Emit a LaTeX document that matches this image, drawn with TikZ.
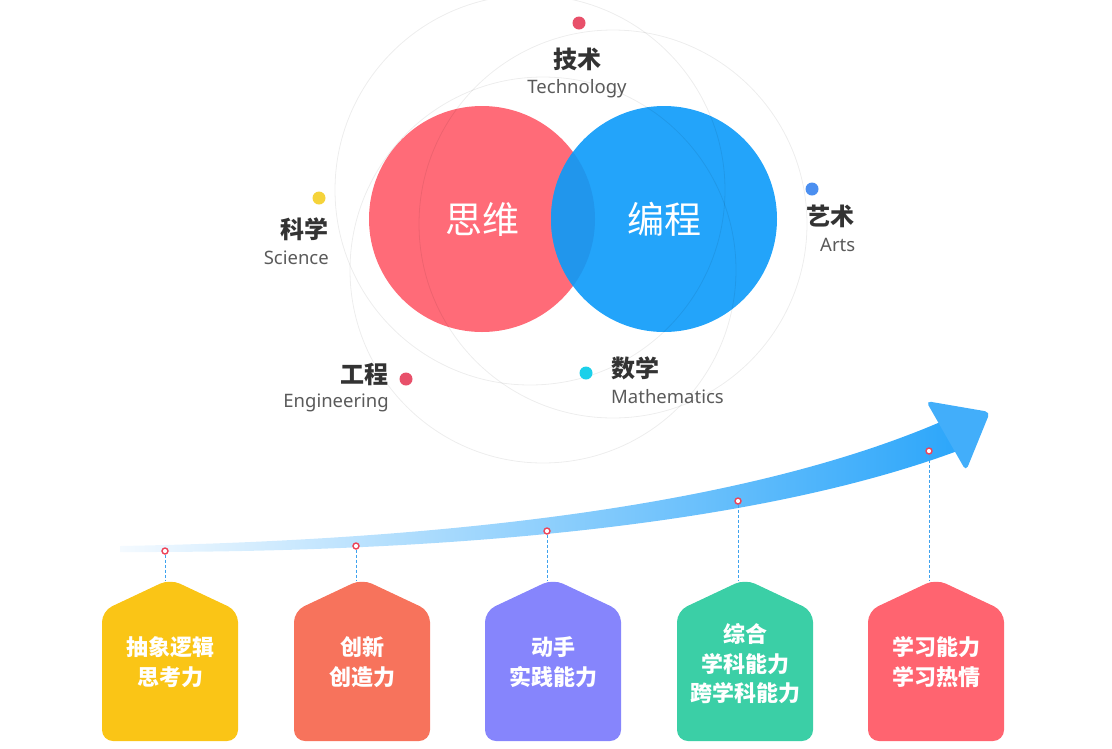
\documentclass[tikz,border=0pt]{standalone}
\usepackage{fontspec}
\setmainfont{Noto Sans}
\newfontfamily\cjk{Noto Sans CJK SC}
\definecolor{vred}{HTML}{FF6B78}
\definecolor{vblue}{HTML}{23A4FA}
\definecolor{vover}{HTML}{2196EC}
\definecolor{byel}{HTML}{FAC516}
\definecolor{bora}{HTML}{F7735C}
\definecolor{bpur}{HTML}{8685FC}
\definecolor{bgre}{HTML}{3BCFA6}
\definecolor{bred}{HTML}{FF6470}
\definecolor{dred}{HTML}{E8506A}
\definecolor{dyel}{HTML}{F5D33A}
\definecolor{dblu}{HTML}{4B8FF0}
\definecolor{dcya}{HTML}{1CD0EA}
\definecolor{ring}{HTML}{EE4458}
\definecolor{dash}{HTML}{3EA2EE}
\definecolor{ahead}{HTML}{42AEFA}
\definecolor{bandl}{HTML}{F4FAFF}
\definecolor{bandm}{HTML}{C4E5FD}
\definecolor{bandr}{HTML}{2CA6FA}
\definecolor{zhtext}{HTML}{333333}
\definecolor{entext}{HTML}{5A5A5A}
\tikzset{
  faint/.style={draw=black, draw opacity=0.07, line width=0.8pt},
  bigdot/.style={circle, minimum size=13pt, inner sep=0pt},
  zhlabel/.style={font=\cjk\bfseries\fontsize{24}{28}\selectfont, text=zhtext, inner sep=0pt},
  enlabel/.style={font=\fontsize{18.5}{22}\selectfont, text=entext, inner sep=0pt},
  venn/.style={circle, minimum size=226pt, inner sep=0pt},
  venntext/.style={text=white, font=\cjk\fontsize{37}{40}\selectfont},
  boxtext/.style={font=\cjk\bfseries\fontsize{22}{29.5}\selectfont, text=white, align=center, inner sep=0pt},
  ringdot/.style={circle, draw=ring, fill=white, line width=1.4pt, minimum size=6pt, inner sep=0pt},
  dashln/.style={draw=dash, line width=0.8pt, dash pattern=on 3pt off 2pt},
}
\newcommand\houseshape[2]{%
  \fill[#2, rounded corners=11pt] ({#1-68},741) -- ({#1-68},611) -- (#1,579) -- ({#1+68},611) -- ({#1+68},741) -- cycle;}
\begin{document}
\begin{tikzpicture}[x=1pt,y=-1pt]
\useasboundingbox (0,0) rectangle (1112,748);
% Venn circles
\node[venn, fill=vred] (think) at (482,219) {};
\node[venn, fill=vblue] (code) at (664,219) {};
\begin{scope}
  \clip (482,219) circle (113);
  \fill[vover] (664,219) circle (113);
\end{scope}
% faint orbit circles
\draw[faint] (530,190) circle (195);
\draw[faint] (613,224) circle (194);
\draw[faint] (543,270) circle (193);
\node[venntext] (thinkt) at (think.center) {思维};
\node[venntext] (codet) at (code.center) {编程};
% dots and labels
\node[bigdot, fill=dred] (tdot) at (579,23) {};
\node[zhlabel] (tzh) at (577,59) {技术};
\node[enlabel] (ten) at (577,89) {Technology};
\node[bigdot, fill=dyel] (sdot) at (319,198) {};
\node[zhlabel, anchor=east] (szh) at (329,229) {科学};
\node[enlabel, anchor=east] (sen) at (329,258) {Science};
\node[bigdot, fill=dblu] (adot) at (812,189) {};
\node[zhlabel, anchor=west] (azh) at (806,216) {艺术};
\node[enlabel, anchor=west] (aen) at (820,245) {Arts};
\node[bigdot, fill=dred] (edot) at (406,379) {};
\node[zhlabel, anchor=east] (ezh) at (389,374) {工程};
\node[enlabel, anchor=east] (een) at (389,403) {Engineering};
\node[bigdot, fill=dcya] (mdot) at (586,373) {};
\node[zhlabel, anchor=west] (mzh) at (611,368) {数学};
\node[enlabel, anchor=west] (men) at (611,397) {Mathematics};
% growth arrow band
\shade[left color=bandl, middle color=bandm, right color=bandr]
  (120,546) .. controls (450,540) and (750,505) .. (945,420)
  -- (960,450) .. controls (760,525) and (450,553) .. (120,552) -- cycle;
\fill[ahead, rounded corners=5pt] (926,401) -- (990,412) -- (966,471) -- cycle;
% stage dots, dashes, boxes
\coordinate (a1) at (170,580);
\coordinate (a2) at (362,580);
\coordinate (a3) at (553,580);
\coordinate (a4) at (745,580);
\coordinate (a5) at (936,580);
\node[ringdot] (d1) at (165,551) {};
\node[ringdot] (d2) at (356,546) {};
\node[ringdot] (d3) at (547,531) {};
\node[ringdot] (d4) at (738,501) {};
\node[ringdot] (d5) at (929,451) {};
\draw[dashln] (d1.south) -- (d1 |- a1);
\draw[dashln] (d2.south) -- (d2 |- a2);
\draw[dashln] (d3.south) -- (d3 |- a3);
\draw[dashln] (d4.south) -- (d4 |- a4);
\draw[dashln] (d5.south) -- (d5 |- a5);
\houseshape{170}{byel}
\houseshape{362}{bora}
\houseshape{553}{bpur}
\houseshape{745}{bgre}
\houseshape{936}{bred}
\node[boxtext] (t1) at (170,662) {抽象逻辑\\思考力};
\node[boxtext] (t2) at (362,662) {创新\\创造力};
\node[boxtext] (t3) at (553,662) {动手\\实践能力};
\node[boxtext] (t4) at (745,664) {综合\\学科能力\\跨学科能力};
\node[boxtext] (t5) at (936,662) {学习能力\\学习热情};
\end{tikzpicture}
\end{document}
